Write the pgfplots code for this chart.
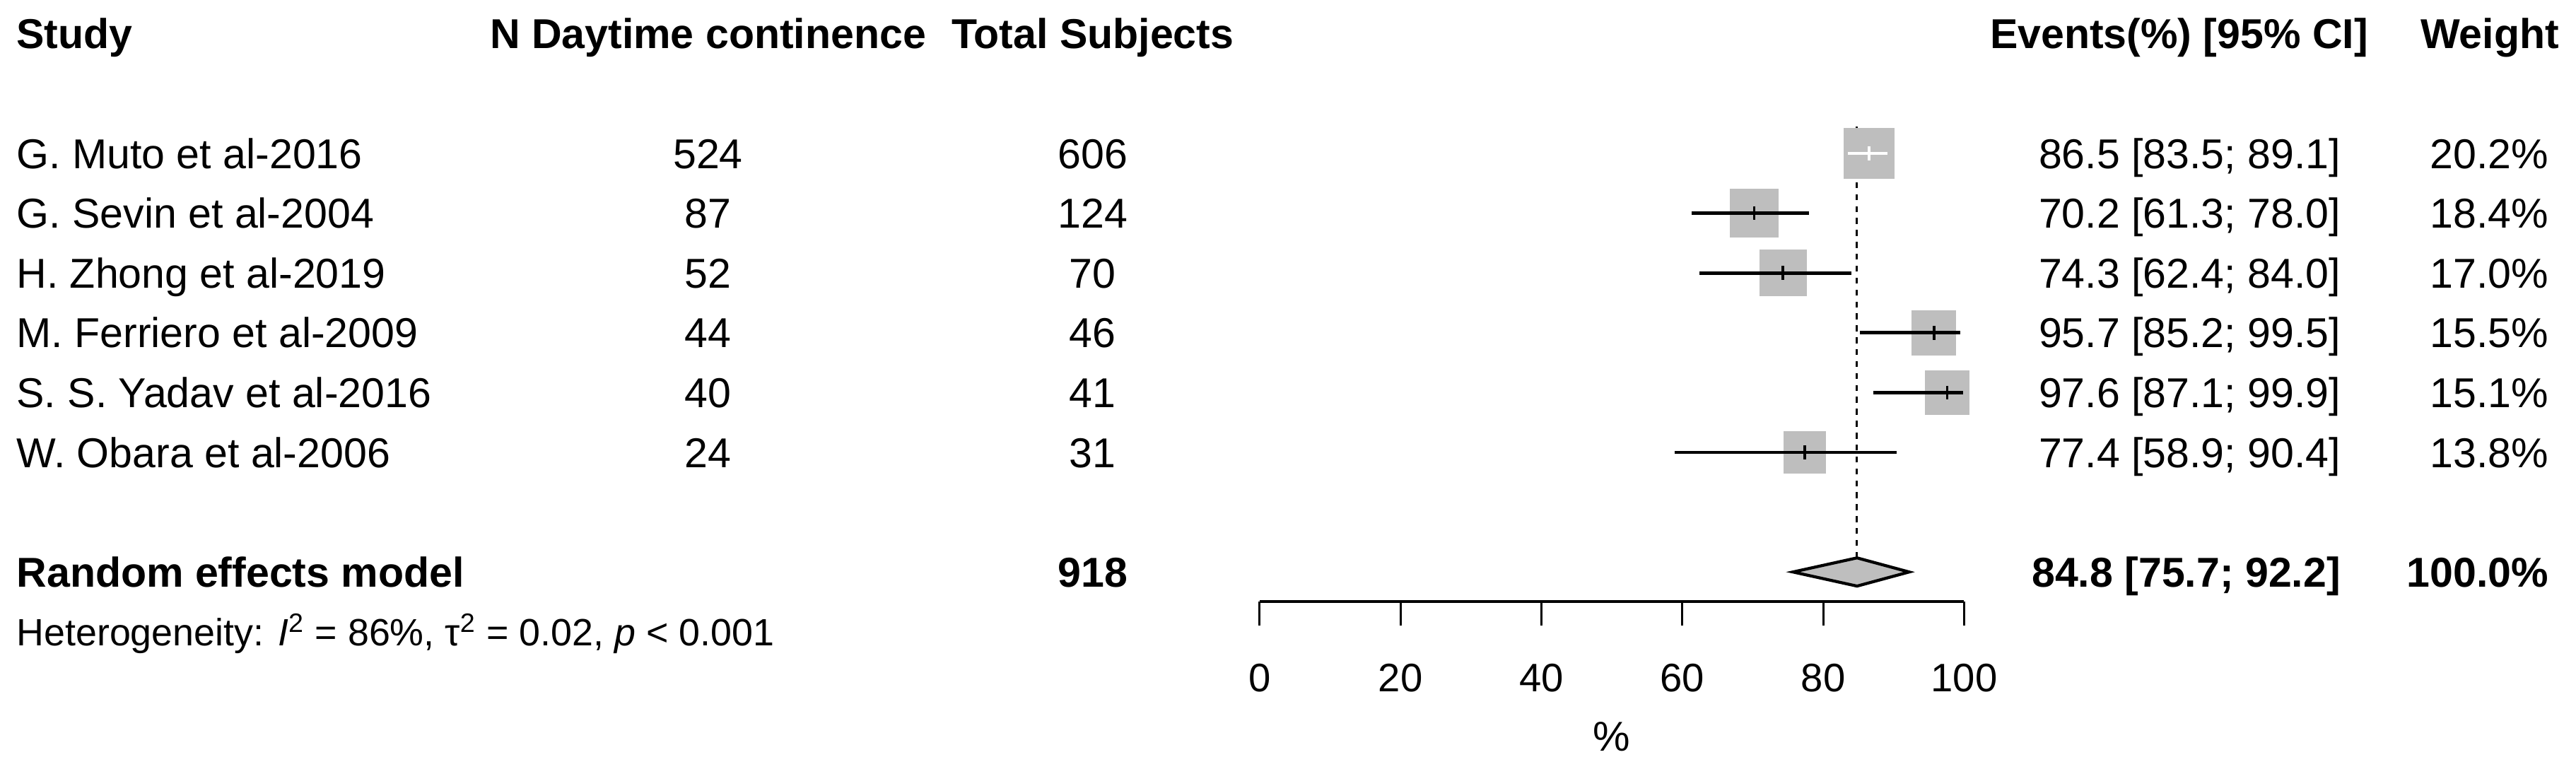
\documentclass[border=0pt]{standalone}
\usepackage{fontspec}
\setmainfont{Liberation Sans}
\usepackage{pgfplots}
\pgfplotsset{compat=1.18}
\usepackage{pgfplotstable}
\definecolor{boxgray}{RGB}{190,190,190}

% y = -row index, est, lower, upper, half box side (pt)
\pgfplotstableread{
y est lo hi ms
-2 86.5 83.5 89.1 10.1
-3 70.2 61.3 78.0 9.7
-4 74.3 62.4 84.0 9.3
-5 95.7 85.2 99.5 8.9
-6 97.6 87.1 99.9 8.8
-7 77.4 58.9 90.4 8.4
}\studies

\newcommand\mainfs{\fontsize{16.8}{20}\selectfont}
\newcommand\hetfs{\fontsize{15.3}{18}\selectfont}

\begin{document}
\begin{tikzpicture}[
  lt/.style={anchor=base west, inner sep=0pt, yshift=-6pt, font=\mainfs},
  ct/.style={anchor=base, inner sep=0pt, yshift=-6pt, font=\mainfs},
  rt/.style={anchor=base east, inner sep=0pt, yshift=-6pt, font=\mainfs},
  ltb/.style={lt, font=\mainfs\bfseries},
  ctb/.style={ct, font=\mainfs\bfseries},
  rtb/.style={rt, font=\mainfs\bfseries},
]
\begin{axis}[
  scale only axis, width=9.965cm, height=6.72cm,
  xmin=0, xmax=100, ymin=-9.494, ymax=-1.55,
  axis x line*=bottom, hide y axis, clip=false, clip mode=individual,
  axis line style={line width=1.1pt, black},
  xtick={0,20,40,60,80,100},
  xticklabels={0,20,40,60,80,100},
  tick align=outside, major tick length=0.34cm,
  tick style={line width=0.8pt, black},
  xticklabel style={font=\fontsize{16}{19}\selectfont, anchor=base, yshift=-0.93cm},
]
% invisible canvas extent
\path (axis cs:-178.8,0.565) rectangle (axis cs:186.85,-12.367);

% reference (summary) line
\addplot[black, line width=0.85pt, dash pattern=on 2.4pt off 2.4pt] coordinates {(84.8,-8.764) (84.8,-1.55)};

% study boxes
\addplot[scatter, only marks, mark=square*, point meta=0,
  scatter/use mapped color={draw=boxgray, fill=boxgray},
  mark options={draw=boxgray, fill=boxgray, line width=0pt},
  visualization depends on={\thisrow{ms} \as \msz},
  scatter/@pre marker code/.append style={/tikz/mark size=\msz}]
  table[x=est, y=y] {\studies};

% confidence intervals
\addplot[black, line width=1.4pt] coordinates {(61.3,-3) (78.0,-3)};
\addplot[black, line width=1.4pt] coordinates {(62.4,-4) (84.0,-4)};
\addplot[black, line width=1.4pt] coordinates {(85.2,-5) (99.5,-5)};
\addplot[black, line width=1.4pt] coordinates {(87.1,-6) (99.9,-6)};
\addplot[black, line width=1.4pt] coordinates {(58.9,-7) (90.4,-7)};
\addplot[white, line width=1.4pt] coordinates {(83.5,-2) (89.1,-2)};

% point estimates (short vertical strokes)
\addplot[black, line width=1.1pt] coordinates {(70.2,-2.883) (70.2,-3.117)};
\addplot[black, line width=1.1pt] coordinates {(74.3,-3.883) (74.3,-4.117)};
\addplot[black, line width=1.1pt] coordinates {(95.7,-4.883) (95.7,-5.117)};
\addplot[black, line width=1.1pt] coordinates {(97.6,-5.883) (97.6,-6.117)};
\addplot[black, line width=1.1pt] coordinates {(77.4,-6.883) (77.4,-7.117)};
\addplot[white, line width=1.1pt] coordinates {(86.5,-1.883) (86.5,-2.117)};

% summary diamond
\addplot[fill=boxgray, draw=black, line width=1.2pt] coordinates {(75.7,-9) (84.8,-8.764) (92.2,-9) (84.8,-9.236)} -- cycle;

% header
\node[ltb] at (axis cs:-176.5,0) {Study};
\node[ctb] at (axis cs:-78.3,0) {N Daytime continence};
\node[ctb] at (axis cs:-23.7,0) {Total Subjects};
\node[ltb] at (axis cs:103.6,0) {Events(\%) [95\% CI]};
\node[rtb] at (axis cs:184.5,0) {Weight};

% rows
\node[lt] at (axis cs:-176.5,-2) {G. Muto et al-2016};
\node[lt] at (axis cs:-176.5,-3) {G. Sevin et al-2004};
\node[lt] at (axis cs:-176.5,-4) {H. Zhong et al-2019};
\node[lt] at (axis cs:-176.5,-5) {M. Ferriero et al-2009};
\node[lt] at (axis cs:-176.5,-6) {S. S. Yadav et al-2016};
\node[lt] at (axis cs:-176.5,-7) {W. Obara et al-2006};

\node[ct] at (axis cs:-78.3,-2) {524};
\node[ct] at (axis cs:-78.3,-3) {87};
\node[ct] at (axis cs:-78.3,-4) {52};
\node[ct] at (axis cs:-78.3,-5) {44};
\node[ct] at (axis cs:-78.3,-6) {40};
\node[ct] at (axis cs:-78.3,-7) {24};

\node[ct] at (axis cs:-23.7,-2) {606};
\node[ct] at (axis cs:-23.7,-3) {124};
\node[ct] at (axis cs:-23.7,-4) {70};
\node[ct] at (axis cs:-23.7,-5) {46};
\node[ct] at (axis cs:-23.7,-6) {41};
\node[ct] at (axis cs:-23.7,-7) {31};

\node[rt] at (axis cs:153.5,-2) {86.5 [83.5; 89.1]};
\node[rt] at (axis cs:153.5,-3) {70.2 [61.3; 78.0]};
\node[rt] at (axis cs:153.5,-4) {74.3 [62.4; 84.0]};
\node[rt] at (axis cs:153.5,-5) {95.7 [85.2; 99.5]};
\node[rt] at (axis cs:153.5,-6) {97.6 [87.1; 99.9]};
\node[rt] at (axis cs:153.5,-7) {77.4 [58.9; 90.4]};

\node[rt] at (axis cs:183.0,-2) {20.2\%};
\node[rt] at (axis cs:183.0,-3) {18.4\%};
\node[rt] at (axis cs:183.0,-4) {17.0\%};
\node[rt] at (axis cs:183.0,-5) {15.5\%};
\node[rt] at (axis cs:183.0,-6) {15.1\%};
\node[rt] at (axis cs:183.0,-7) {13.8\%};

% summary row
\node[ltb] at (axis cs:-176.5,-9) {Random effects model};
\node[ctb] at (axis cs:-23.7,-9) {918};
\node[rtb] at (axis cs:153.5,-9) {84.8 [75.7; 92.2]};
\node[rtb] at (axis cs:183.0,-9) {100.0\%};

\node[anchor=base west, inner sep=0pt, yshift=-5.5pt, font=\hetfs] at (axis cs:-176.5,-10)
  {Heterogeneity: \textit{I}\textsuperscript{2} = 86\%, τ\textsuperscript{2} = 0.02, \textit{p} < 0.001};

% axis title
\node[ct] at (axis cs:50,-11.75) {\%};
\end{axis}
\end{tikzpicture}
\end{document}
